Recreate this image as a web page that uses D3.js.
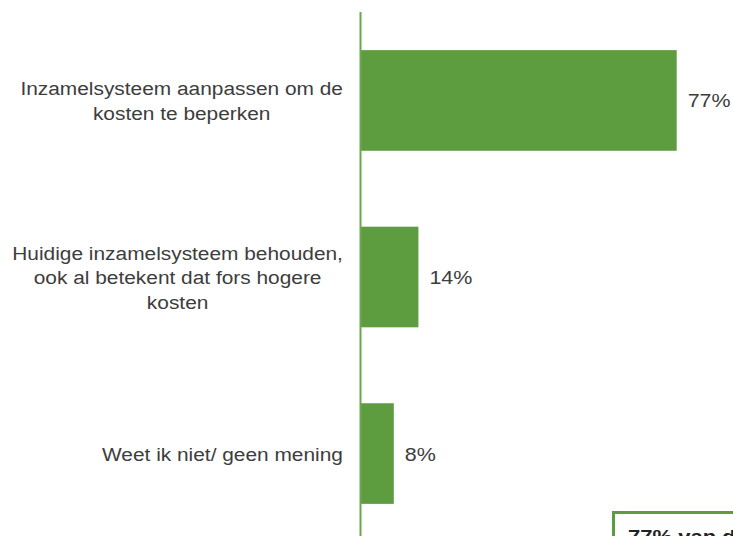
<!DOCTYPE html>
<html>
<head>
    <script src="https://d3js.org/d3.v7.min.js"></script>
    <style>
        body { margin: 0; background: #fff; }
        text { font-family: "Liberation Sans", Arial, sans-serif; }
    </style>
</head>
<body>
    <svg width="733" height="536"></svg>
    <script>
        // survey answers, top to bottom
        const categories = [
            ["Inzamelsysteem aanpassen om de", "kosten te beperken"],
            ["Huidige inzamelsysteem behouden,", "ook al betekent dat fors hogere", "kosten"],
            ["Weet ik niet/ geen mening"]
        ]
        const values = [77, 14, 8]
        const valueLabels = ["77%", "14%", "8%"]
        const calloutText = "77% van de"

        const svg = d3.select("svg")
        const green = "#5e9c40"
        const textColor = "#3d3d3d"
        // the source picture is a bit stretched sideways
        var sx = 1.16

        var axis_x = 361
        var x = d3.scaleLinear().domain([0, 100]).range([axis_x, axis_x + 410])
        var y = d3.scaleBand()
            .domain(d3.range(categories.length))
            .range([12, 542])
            .paddingInner(0.43)
            .paddingOuter(0.216)

        svg.selectAll("rect.bar")
            .data(values)
            .enter()
            .append("rect")
            .attr("class", "bar")
            .attr("x", axis_x)
            .attr("y", (d, i) => y(i))
            .attr("width", d => x(d) - axis_x)
            .attr("height", y.bandwidth())
            .style("fill", green)

        // vertical axis line
        svg.append("line")
            .attr("x1", axis_x - 0.5).attr("x2", axis_x - 0.5)
            .attr("y1", 12).attr("y2", 536)
            .attr("stroke", "#6aa84c")
            .style("stroke-width", "2px")

        // value labels
        svg.selectAll("text.val")
            .data(values)
            .enter()
            .append("text")
            .attr("class", "val")
            .attr("transform", (d, i) => "translate(" + (x(d) + 11) + "," + (y(i) + y.bandwidth() / 2 + 7) + ") scale(" + sx + ",1)")
            .style("font-size", "18.5px")
            .style("fill", textColor)
            .text((d, i) => valueLabels[i])

        // category labels: lines centred in a block that is right aligned
        var lineH = 24.5
        var right_x = 343
        categories.forEach((lines, i) => {
            var g = svg.append("g")
            var cy = y(i) + y.bandwidth() / 2
            var t = g.selectAll("text")
                .data(lines)
                .enter()
                .append("text")
                .attr("text-anchor", "middle")
                .style("font-size", "18px")
                .style("fill", textColor)
                .text(d => d)
            var maxW = d3.max(t.nodes(), n => n.getComputedTextLength()) * sx
            var cx = right_x - maxW / 2
            t.attr("transform", (d, j) => "translate(" + cx + "," + (cy + 7 + (j - (lines.length - 1) / 2) * lineH) + ") scale(" + sx + ",1)")
        })

        // callout box, cut off at the bottom right
        svg.append("rect")
            .attr("x", 613.5).attr("y", 512.5)
            .attr("width", 140).attr("height", 60)
            .attr("fill", "#fff")
            .attr("stroke", green)
            .style("stroke-width", "3px")
        svg.append("text")
            .attr("transform", "translate(628,543) scale(" + sx + ",1)")
            .style("font-size", "19px")
            .style("font-weight", "bold")
            .style("fill", "#222")
            .text(calloutText)
    </script>
</body>
</html>
